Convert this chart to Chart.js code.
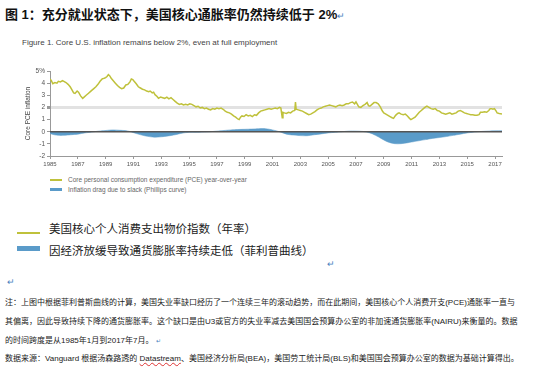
<!DOCTYPE html>
<html>
<head>
<meta charset="utf-8">
<script src="https://cdn.jsdelivr.net/npm/chart.js@4.4.1/dist/chart.umd.min.js"></script>
<style>
  body { margin: 0; width: 557px; height: 377px; background: #fff; position: relative; overflow: hidden;
         font-family: "Liberation Sans", Arial, "Noto Sans CJK SC", sans-serif; }
  .t { position: absolute; white-space: nowrap; }
  .cjk { font-family: "Liberation Sans", "Noto Sans CJK SC", sans-serif; }
  .ret { color: #4a7fc0; font-size: 9px; }
  #title { left: 5px; top: 6px; font-size: 13px; line-height: 18px; font-weight: bold; color: #111; }
  #subtitle { left: 22px; top: 38px; font-size: 8px; line-height: 10px; color: #444; }
  .lg { left: 68px; font-size: 6.5px; line-height: 8px; color: #666; }
  .sw { position: absolute; left: 50px; width: 12px; }
  .big { left: 49px; font-size: 11.5px; line-height: 14px; color: #222; }
  .bsw { position: absolute; left: 17px; width: 23px; }
  .note { left: 5px; width: 510px; font-size: 8px; line-height: 19px; color: #222; }
  .just { text-align: justify; text-align-last: justify; }
  #chartBox { position: absolute; left: 0; top: 60px; }
  .wavy { text-decoration: underline wavy #d33; text-decoration-thickness: 1px; }
</style>
</head>
<body>
<div id="title" class="t cjk">图 1：充分就业状态下，美国核心通胀率仍然持续低于 2%<span class="ret" style="font-weight:normal">↵</span></div>
<div id="subtitle" class="t">Figure 1. Core U.S. inflation remains below 2%, even at full employment</div>

<canvas id="chartBox" width="520" height="116"></canvas>

<div class="sw" style="top:179px;height:1.5px;background:#bfc13b"></div>
<div class="t lg" style="top:176px">Core personal consumption expenditure (PCE) year-over-year</div>
<div class="sw" style="top:188px;height:3px;background:#5a9bc9"></div>
<div class="t lg" style="top:185.5px">Inflation drag due to slack (Phillips curve)</div>

<div class="bsw" style="top:231.5px;height:2px;background:#bfc13b"></div>
<div class="t big cjk" style="top:221.5px">美国核心个人消费支出物价指数（年率）</div>
<div class="bsw" style="top:246px;height:5px;background:#5a9bc9"></div>
<div class="t big cjk" style="top:243.5px">因经济放缓导致通货膨胀率持续走低（菲利普曲线）</div>
<div class="t ret" style="left:327px;top:259px">↵</div>
<div class="t ret" style="left:7px;top:277px">↵</div>

<div class="t note cjk just" style="top:292.5px">注：上图中根据菲利普斯曲线的计算，美国失业率缺口经历了一个连续三年的滚动趋势，而在此期间，美国核心个人消费开支(PCE)通胀率一直与</div>
<div class="t note cjk just" style="top:312px">其偏离，因此导致持续下降的通货膨胀率。这个缺口是由U3或官方的失业率减去美国国会预算办公室的非加速通货膨胀率(NAIRU)来衡量的。数据</div>
<div class="t note cjk" style="top:330.5px">的时间跨度是从1985年1月到2017年7月。 <span class="ret" style="font-size:6px">↵</span></div>
<div class="t note cjk" style="top:348.5px">数据来源：Vanguard 根据汤森路透的 <span class="wavy">Datastream</span>、美国经济分析局(BEA)，美国劳工统计局(BLS)和美国国会预算办公室的数据为基础计算得出。</div>

<script>
// Core PCE, year-over-year (%)
const pceYears = [
  1985.0, 1985.1, 1985.2, 1985.35, 1985.5, 1985.6, 1985.75, 1985.9, 1986.0, 1986.15, 1986.3, 1986.45, 1986.55, 1986.7, 1986.8, 1986.95,
  1987.05, 1987.2, 1987.35, 1987.45, 1987.6, 1987.75, 1987.9, 1988.0, 1988.15, 1988.3, 1988.45, 1988.6, 1988.75, 1988.9,
  1989.0, 1989.1, 1989.2, 1989.3, 1989.4, 1989.55, 1989.7, 1989.85, 1990.0, 1990.15, 1990.3, 1990.45, 1990.6, 1990.75, 1990.85, 1990.95,
  1991.05, 1991.2, 1991.35, 1991.5, 1991.65, 1991.8, 1991.95, 1992.1, 1992.2, 1992.35, 1992.45, 1992.55, 1992.7, 1992.8, 1992.95,
  1993.1, 1993.25, 1993.4, 1993.55, 1993.7, 1993.85, 1994.0, 1994.15, 1994.3, 1994.45, 1994.6, 1994.75, 1994.9,
  1995.05, 1995.2, 1995.35, 1995.5, 1995.65, 1995.8, 1995.95, 1996.1, 1996.25, 1996.4, 1996.55, 1996.7, 1996.85,
  1997.0, 1997.15, 1997.3, 1997.45, 1997.6, 1997.75, 1997.9, 1998.05, 1998.2, 1998.35, 1998.5, 1998.6, 1998.7, 1998.8, 1998.95,
  1999.1, 1999.25, 1999.4, 1999.55, 1999.7, 1999.85, 2000.0, 2000.15, 2000.3, 2000.45, 2000.6, 2000.75, 2000.9,
  2001.05, 2001.2, 2001.35, 2001.5, 2001.6, 2001.7, 2001.75, 2001.85, 2002.0, 2002.15, 2002.3, 2002.45, 2002.6, 2002.65, 2002.7, 2002.85,
  2003.0, 2003.15, 2003.3, 2003.45, 2003.6, 2003.75, 2003.9, 2004.05, 2004.2, 2004.35, 2004.5, 2004.65, 2004.8, 2004.95,
  2005.1, 2005.25, 2005.4, 2005.55, 2005.7, 2005.85, 2006.0, 2006.15, 2006.3, 2006.45, 2006.6, 2006.75, 2006.9,
  2007.0, 2007.1, 2007.2, 2007.35, 2007.5, 2007.65, 2007.8, 2007.9, 2008.0, 2008.15, 2008.3, 2008.45, 2008.6, 2008.75, 2008.9,
  2009.0, 2009.15, 2009.3, 2009.45, 2009.6, 2009.7, 2009.85, 2010.0, 2010.1, 2010.25, 2010.4, 2010.55, 2010.7, 2010.85, 2010.95,
  2011.1, 2011.25, 2011.4, 2011.55, 2011.7, 2011.85, 2012.0, 2012.1, 2012.25, 2012.4, 2012.55, 2012.7, 2012.85,
  2013.0, 2013.15, 2013.3, 2013.45, 2013.6, 2013.75, 2013.9, 2014.05, 2014.2, 2014.35, 2014.5, 2014.65, 2014.8, 2014.95,
  2015.1, 2015.25, 2015.4, 2015.55, 2015.7, 2015.85, 2015.95, 2016.1, 2016.25, 2016.4, 2016.55, 2016.65, 2016.75, 2016.85, 2016.95,
  2017.05, 2017.15, 2017.3, 2017.5
];
const pceValues = [
  4.35, 4.2, 3.95, 4.05, 4.0, 4.15, 4.1, 4.2, 4.15, 4.05, 3.9, 3.7, 3.5, 3.2, 3.15, 3.35,
  3.25, 2.95, 2.75, 2.85, 3.0, 3.15, 3.3, 3.4, 3.55, 3.7, 3.9, 4.15, 4.35, 4.4,
  4.45, 4.55, 4.7, 4.6, 4.4, 4.2, 4.0, 3.8, 3.65, 3.55, 3.6, 3.85, 3.9, 4.1, 4.35, 4.3,
  4.15, 3.95, 3.7, 3.6, 3.5, 3.45, 3.35, 3.3, 3.35, 3.2, 3.25, 3.05, 2.9, 2.75, 2.85,
  2.8, 2.75, 2.85, 2.7, 2.8, 2.65, 2.5, 2.35, 2.25, 2.3, 2.2, 2.25, 2.2,
  2.3, 2.25, 2.15, 2.05, 2.1, 1.95, 2.0, 1.9, 1.95, 1.85, 1.8, 1.9, 1.85,
  1.95, 1.9, 1.95, 1.85, 1.7, 1.6, 1.55, 1.45, 1.3, 1.2, 1.05, 1.0, 1.2, 1.3, 1.25,
  1.4, 1.3, 1.35, 1.25, 1.4, 1.35, 1.55, 1.7, 1.75, 1.8, 1.85, 1.9, 1.85,
  1.9, 1.95, 1.9, 2.0, 1.95, 1.15, 1.6, 1.55, 1.5, 1.6, 1.55, 1.7, 1.75, 2.45, 1.85, 1.8,
  1.75, 1.7, 1.6, 1.5, 1.4, 1.45, 1.55, 1.65, 1.8, 1.9, 1.95, 2.05, 2.1, 2.15,
  2.2, 2.15, 2.1, 2.05, 2.15, 2.2, 2.15, 2.2, 2.3, 2.3, 2.4, 2.45, 2.3,
  2.45, 2.25, 2.05, 2.0, 2.15, 2.25, 2.4, 2.15, 2.1, 2.25, 2.4, 2.4, 2.3, 2.05, 1.7,
  1.55, 1.45, 1.35, 1.25, 1.15, 1.1, 1.35, 1.5, 1.55, 1.45, 1.4, 1.45, 1.3, 1.1, 1.0,
  1.1, 1.2, 1.4, 1.6, 1.75, 1.9, 2.05, 2.1, 2.0, 1.9, 1.85, 1.9, 1.75,
  1.7, 1.55, 1.5, 1.45, 1.5, 1.55, 1.45, 1.5, 1.55, 1.7, 1.75, 1.65, 1.55, 1.5,
  1.45, 1.4, 1.4, 1.35, 1.35, 1.4, 1.6, 1.6, 1.65, 1.6, 1.75, 1.9, 1.9, 1.85, 1.9,
  1.75, 1.55, 1.5, 1.45
];

// Inflation drag due to slack (Phillips curve), in percentage points
const dragYears = [
  1985.0, 1985.3, 1985.6, 1986.0, 1986.5, 1987.0, 1987.5, 1988.0, 1988.5, 1989.0, 1989.5, 1990.0, 1990.5, 1990.8,
  1991.2, 1991.6, 1992.0, 1992.5, 1993.0, 1993.5, 1994.0, 1994.5, 1995.0, 1995.5, 1996.0, 1996.5,
  1997.0, 1997.5, 1998.0, 1998.5, 1999.0, 1999.5, 2000.0, 2000.5, 2001.0, 2001.5, 2002.0, 2002.5,
  2003.0, 2003.5, 2004.0, 2004.5, 2005.0, 2005.5, 2006.0, 2006.5, 2007.0, 2007.5, 2008.0, 2008.4, 2008.8,
  2009.2, 2009.6, 2010.0, 2010.5, 2011.0, 2011.5, 2012.0, 2012.5, 2013.0, 2013.5, 2014.0, 2014.5,
  2015.0, 2015.5, 2016.0, 2016.5, 2017.0, 2017.5
];
const dragValues = [
  -0.15, -0.25, -0.3, -0.3, -0.25, -0.2, -0.1, -0.03, 0.05, 0.1, 0.15, 0.12, 0.08, 0.0,
  -0.15, -0.28, -0.38, -0.45, -0.42, -0.35, -0.25, -0.12, -0.05, -0.05, -0.03, 0.0,
  0.05, 0.1, 0.15, 0.18, 0.2, 0.22, 0.25, 0.25, 0.15, 0.0, -0.2, -0.28,
  -0.32, -0.33, -0.25, -0.18, -0.1, -0.05, 0.0, 0.05, 0.05, 0.02, -0.1, -0.3, -0.55,
  -0.8, -0.95, -1.0, -0.95, -0.85, -0.75, -0.65, -0.55, -0.48, -0.4, -0.3, -0.2,
  -0.1, -0.03, 0.02, 0.05, 0.07, 0.08
];

const yearTicks = [1985, 1987, 1989, 1991, 1993, 1995, 1997, 1999, 2001, 2003, 2005, 2007, 2009, 2011, 2013, 2015, 2017];
const valueTicks = [-2, -1, 0, 1, 2, 3, 4, 5];

Chart.defaults.font.family = '"Liberation Sans", Arial, sans-serif';

// zero line on top of the bars
const zeroLine = {
  id: 'zeroLine',
  afterDatasetsDraw(chart) {
    const { ctx, chartArea } = chart;
    const y = chart.scales.y.getPixelForValue(0);
    ctx.save();
    ctx.strokeStyle = '#555';
    ctx.lineWidth = 1.5;
    ctx.beginPath();
    ctx.moveTo(chartArea.left, y);
    ctx.lineTo(chartArea.right, y);
    ctx.stroke();
    ctx.restore();
  }
};

new Chart(document.getElementById('chartBox'), {
  type: 'line',
  data: {
    datasets: [
      {
        label: 'Core personal consumption expenditure (PCE) year-over-year',
        data: pceYears.map((x, i) => ({ x, y: pceValues[i] })),
        borderColor: '#bfc13b',
        borderWidth: 1.5,
        pointRadius: 0,
        tension: 0,
        fill: false
      },
      {
        label: 'Inflation drag due to slack (Phillips curve)',
        data: dragYears.map((x, i) => ({ x, y: dragValues[i] })),
        borderColor: '#5a9bc9',
        backgroundColor: '#5a9bc9',
        borderWidth: 0.5,
        pointRadius: 0,
        tension: 0.3,
        fill: 'origin'
      }
    ]
  },
  options: {
    responsive: false,
    animation: false,
    layout: { padding: { left: 0, right: 18, top: 11, bottom: 0 } },
    plugins: { legend: { display: false }, tooltip: { enabled: false } },
    scales: {
      x: {
        type: 'linear',
        min: 1985,
        max: 2017.5,
        afterBuildTicks: s => { s.ticks = yearTicks.map(v => ({ value: v })); },
        afterFit: s => { s.height = 20; },
        grid: { drawOnChartArea: false, tickColor: '#999', tickLength: 3 },
        border: { color: '#999' },
        ticks: { color: '#555', font: { size: 6 }, padding: 2, maxRotation: 0, autoSkip: false, callback: v => String(v) }
      },
      y: {
        min: -2,
        max: 5,
        afterBuildTicks: s => { s.ticks = valueTicks.map(v => ({ value: v })); },
        afterFit: s => { s.width = 50; },
        grid: {
          color: c => c.tick && c.tick.value === 2 ? '#e2e2e2' : 'rgba(0,0,0,0)',
          lineWidth: c => c.tick && c.tick.value === 2 ? 3 : 1,
          tickColor: '#999',
          tickLength: 3
        },
        border: { color: '#999' },
        ticks: { color: '#555', font: { size: 6.5 }, padding: 2, callback: v => v === 5 ? '5%' : String(v) },
        title: { display: true, text: 'Core PCE inflation', color: '#444', font: { size: 6.5 }, padding: { top: 24, bottom: 0 } }
      }
    }
  },
  plugins: [zeroLine]
});
</script>
</body>
</html>
